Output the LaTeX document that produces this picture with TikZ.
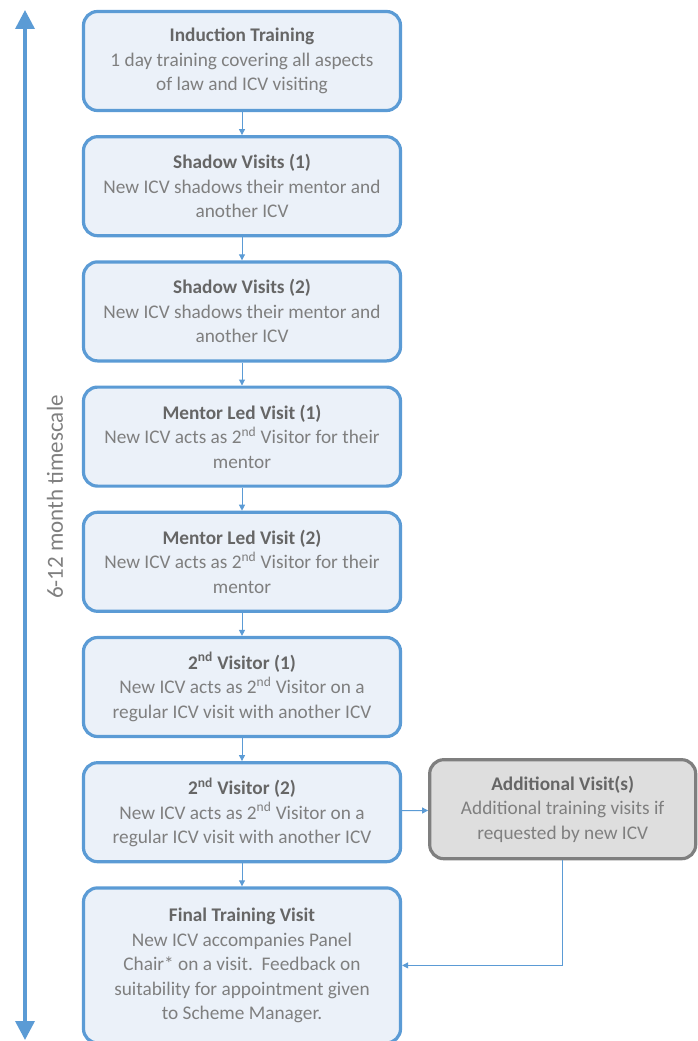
\documentclass[tikz,border=0pt]{standalone}
\usepackage{fontspec}
\setmainfont{Carlito}
\usepackage{tikz}
\usepackage{xcolor}
\usetikzlibrary{arrows.meta,positioning}
\definecolor{icvblue}{HTML}{5B9BD5}
\definecolor{icvfill}{HTML}{EBF1F9}
\definecolor{icvgrey}{HTML}{7F7F7F}
\definecolor{icvtitle}{HTML}{666666}
\definecolor{icvside}{HTML}{DEDEDE}
\newcommand{\stagetitle}[1]{{\bfseries\color{icvtitle}#1}}
\newcommand{\nd}{\textsuperscript{nd}}
\tikzset{
  stage/.style={draw=icvblue, fill=icvfill, line width=3.2pt, rounded corners=14pt, align=center, text=icvgrey, font=\fontsize{19.3}{24.5}\selectfont, minimum width=317pt, minimum height=99pt, inner sep=2pt},
  extra/.style={stage, draw=icvgrey, fill=icvside, minimum width=266pt},
  link/.style={-{Triangle[length=6pt, width=6pt]}, line width=1pt, draw=icvblue},
  span/.style={{Triangle[length=19pt, width=19pt]}-{Triangle[length=19pt, width=19pt]}, line width=3.5pt, draw=icvblue}
}
\begin{document}
\begin{tikzpicture}[x=1pt, y=-1pt]
  \useasboundingbox (0,0) rectangle (698,1041);
  \clip (0,0) rectangle (698,1041);
  \node[stage] (induct) at (242,61) {\stagetitle{Induction Training}\\1 day training covering all aspects\\of law and ICV visiting};
  \node[stage, below=23pt of induct] (shadowa) {\stagetitle{Shadow Visits (1)}\\New ICV shadows their mentor and\\another ICV};
  \node[stage, below=23pt of shadowa] (shadowb) {\stagetitle{Shadow Visits (2)}\\New ICV shadows their mentor and\\another ICV};
  \node[stage, below=23pt of shadowb] (mentora) {\stagetitle{Mentor Led Visit (1)}\\New ICV acts as 2\nd{} Visitor for their\\mentor};
  \node[stage, below=23pt of mentora] (mentorb) {\stagetitle{Mentor Led Visit (2)}\\New ICV acts as 2\nd{} Visitor for their\\mentor};
  \node[stage, below=23pt of mentorb] (seconda) {\stagetitle{2\nd{} Visitor (1)}\\New ICV acts as 2\nd{} Visitor on a\\regular ICV visit with another ICV};
  \node[stage, below=23pt of seconda] (secondb) {\stagetitle{2\nd{} Visitor (2)}\\New ICV acts as 2\nd{} Visitor on a\\regular ICV visit with another ICV};
  \node[stage, below=23pt of secondb, minimum height=155pt] (final) {\stagetitle{Final Training Visit}\\New ICV accompanies Panel\\Chair* on a visit.\ \ Feedback on\\suitability for appointment given\\to Scheme Manager.};
  \node[extra, right=26pt of secondb, yshift=3pt] (addvis) {\stagetitle{Additional Visit(s)}\\Additional training visits if\\requested by new ICV};
  % timeline
  \coordinate (tltop) at (25,10);
  \coordinate (tlbot) at (25,1040);
  \draw[span] (tlbot) -- (tltop);
  \node[rotate=90, text=icvgrey, font=\fontsize{23}{26}\selectfont] (tlabel) at (55,497) {6-12 month timescale};
  % connectors
  \draw[link] (induct) -- (shadowa);
  \draw[link] (shadowa) -- (shadowb);
  \draw[link] (shadowb) -- (mentora);
  \draw[link] (mentora) -- (mentorb);
  \draw[link] (mentorb) -- (seconda);
  \draw[link] (seconda) -- (secondb);
  \draw[link] (secondb) -- (final);
  \draw[link] (secondb) -- (addvis);
  \draw[link] (addvis.south) |- (final.east);
\end{tikzpicture}
\end{document}
